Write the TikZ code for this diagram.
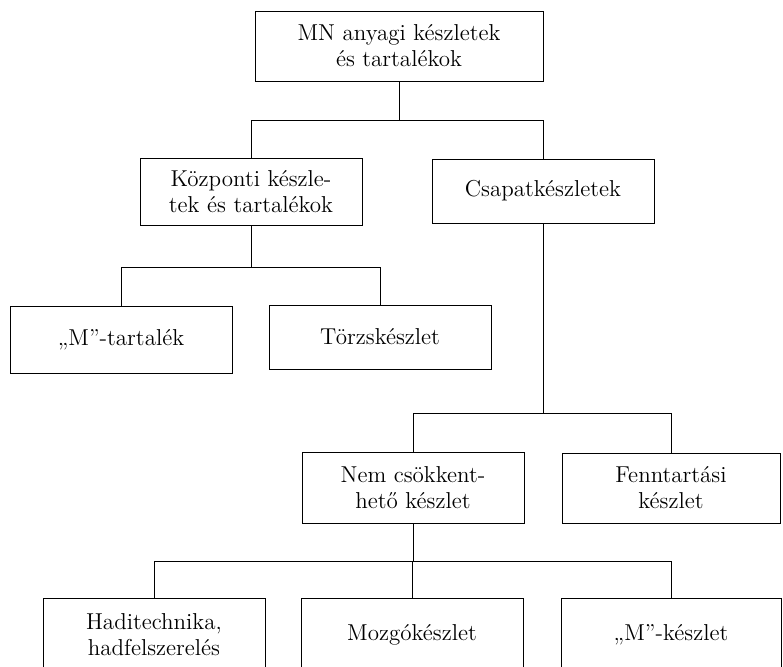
\documentclass[tikz,border=0pt]{standalone}
\usepackage{fontspec}
\setmainfont{Latin Modern Roman}
\begin{document}
\begin{tikzpicture}[x=0.5pt, y=-0.5pt, line width=0.45pt,
    box/.style={draw, align=center, inner sep=0pt, minimum width=111pt,
        minimum height=33.5pt, font=\fontsize{11.5}{13}\selectfont}]
    \useasboundingbox (0,0) rectangle (783,667);
    \clip (0,0) rectangle (783,667);

    % Top level
    \node[box, minimum width=144pt, minimum height=35pt] (mn) at (399,46) {MN anyagi készletek\\és tartalékok};

    % Second level
    \node[box] (kozp) at (251,191.5) {Központi készle-\\tek és tartalékok};
    \node[box, minimum height=32pt] (csapat) at (543,191) {Csapatkészletek};

    % Central stocks
    \node[box] (mtart) at (121,339.5) {„M”-tartalék};
    \node[box, minimum height=32pt] (torzs) at (380,337) {Törzskészlet};

    % Unit stocks
    \node[box, minimum height=35.5pt] (nemcs) at (413,487.5) {Nem csökkent-\\hető készlet};
    \node[box, minimum width=109pt, minimum height=35pt] (fennt) at (671,488) {Fenntartási\\készlet};

    % Bottom level (cut off by the page edge)
    \node[box, minimum height=37pt] (hadi) at (154,635) {Haditechnika,\\hadfelszerelés};
    \node[box, minimum height=37pt] (mozgo) at (412,635) {Mozgókészlet};
    \node[box, minimum width=110pt, minimum height=37pt] (mkesz) at (671,635) {„M”-készlet};

    % Branch levels
    \coordinate (b1) at (0,120);
    \coordinate (b2) at (0,267);
    \coordinate (b3) at (0,413);
    \coordinate (b4) at (0,561);

    % Connectors
    \draw (mn.south) -- (mn.south |- b1);
    \draw (kozp.north) -- (kozp.north |- b1) -- (csapat.north |- b1) -- (csapat.north);

    \draw (kozp.south) -- (kozp.south |- b2);
    \draw (mtart.north) -- (mtart.north |- b2) -- (torzs.north |- b2) -- (torzs.north);

    \draw (csapat.south) -- (csapat.south |- b3);
    \draw (nemcs.north) -- (nemcs.north |- b3) -- (fennt.north |- b3) -- (fennt.north);

    \draw (nemcs.south) -- (nemcs.south |- b4);
    \draw (hadi.north) -- (hadi.north |- b4) -- (mkesz.north |- b4) -- (mkesz.north);
    \draw (mozgo.north) -- (mozgo.north |- b4);
\end{tikzpicture}
\end{document}
